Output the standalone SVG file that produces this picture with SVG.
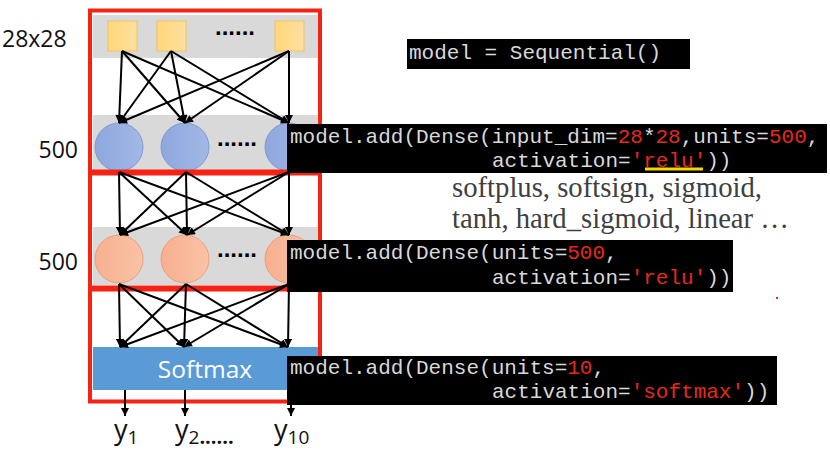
<svg xmlns="http://www.w3.org/2000/svg" width="830" height="452" viewBox="0 0 830 452">
<style>
.frame{fill:none;stroke:#f52314;stroke-width:4}
.band{fill:#d9d9d9}
.sq{fill:url(#gSq);stroke:#f2c463;stroke-width:1}
.c1{fill:url(#gBlue);stroke:#7f9ad6;stroke-width:1}
.c2{fill:url(#gOr);stroke:#e9a07c;stroke-width:1}
.edge{stroke:#000;stroke-width:2;fill:none;marker-end:url(#ah)}
.dots{font-family:"Liberation Sans",Arial,sans-serif;font-weight:bold;font-size:24px;fill:#000}
.lbl{font-family:"Open Sans","Noto Sans",sans-serif;font-size:23px;fill:#111}
.ylbl{font-family:"Open Sans","Noto Sans",sans-serif;font-size:27px;fill:#111}
.codebox{fill:#000}
.code{font-family:"Liberation Mono","Courier New",monospace;font-size:21px;fill:#d9d9d9}
.r{fill:#e8281c}
.serif{font-family:"Liberation Serif","Times New Roman",serif;font-size:28.7px;fill:#404040}
</style>
<defs>
<linearGradient id="gSq" x1="0" y1="0" x2="1" y2="0"><stop offset="0" stop-color="#ffd77a"/><stop offset="1" stop-color="#fde0a0"/></linearGradient>
<linearGradient id="gBlue" x1="0" y1="0" x2="1" y2="0"><stop offset="0" stop-color="#8ea7dd"/><stop offset="1" stop-color="#a3b8e6"/></linearGradient>
<linearGradient id="gOr" x1="0" y1="0" x2="1" y2="0"><stop offset="0" stop-color="#f7b08f"/><stop offset="1" stop-color="#fac2a6"/></linearGradient>
<marker id="ah" viewBox="0 0 10 10" refX="10" refY="5" markerWidth="9" markerHeight="8" markerUnits="userSpaceOnUse" orient="auto"><path d="M0,0 L10,5 L0,10 z" fill="#000"/></marker>
</defs>
<rect width="830" height="452" fill="#fff"/>

<g id="input-layer">
<rect class="band" x="93" y="15" width="225" height="43"/>
<rect class="sq" x="108" y="21" width="29" height="30"/>
<rect class="sq" x="157" y="21" width="29" height="30"/>
<rect class="sq" x="275" y="21" width="29" height="30"/>
<text class="dots" x="215" y="35">......</text>
</g>

<g id="hidden-layer-1">
<rect class="band" x="93" y="115" width="225" height="56"/>
<circle class="c1" cx="119" cy="147" r="24"/>
<circle class="c1" cx="185" cy="147" r="24"/>
<circle class="c1" cx="289" cy="147" r="24"/>
<text class="dots" x="217" y="146">......</text>
</g>

<g id="hidden-layer-2">
<rect class="band" x="93" y="227" width="225" height="58"/>
<circle class="c2" cx="119" cy="259" r="24"/>
<circle class="c2" cx="185" cy="259" r="24"/>
<circle class="c2" cx="289" cy="259" r="24"/>
<text class="dots" x="217" y="257">......</text>
</g>

<g id="softmax-layer">
<rect x="93" y="347" width="225" height="43" fill="#5b9bd5"/>
<text x="205" y="378" text-anchor="middle" font-family="Open Sans, Noto Sans, sans-serif" font-size="24.5" fill="#fff">Softmax</text>
</g>

<g id="frames">
<rect class="frame" x="90" y="10.5" width="230" height="161"/>
<rect class="frame" x="90" y="173.5" width="230" height="114"/>
<rect class="frame" x="90" y="289.5" width="230" height="112"/>
</g>

<g id="connectors">
<line class="edge" x1="122" y1="51" x2="119" y2="123"/>
<line class="edge" x1="122" y1="51" x2="185" y2="123"/>
<line class="edge" x1="122" y1="51" x2="289" y2="123"/>
<line class="edge" x1="171" y1="51" x2="119" y2="123"/>
<line class="edge" x1="171" y1="51" x2="185" y2="123"/>
<line class="edge" x1="171" y1="51" x2="289" y2="123"/>
<line class="edge" x1="289" y1="51" x2="119" y2="123"/>
<line class="edge" x1="289" y1="51" x2="185" y2="123"/>
<line class="edge" x1="289" y1="51" x2="289" y2="123"/>

<line class="edge" x1="119" y1="172" x2="120" y2="235"/>
<line class="edge" x1="119" y1="172" x2="187" y2="235"/>
<line class="edge" x1="119" y1="172" x2="289" y2="235"/>
<line class="edge" x1="186" y1="172" x2="120" y2="235"/>
<line class="edge" x1="186" y1="172" x2="187" y2="235"/>
<line class="edge" x1="186" y1="172" x2="289" y2="235"/>
<line class="edge" x1="289" y1="172" x2="120" y2="235"/>
<line class="edge" x1="289" y1="172" x2="187" y2="235"/>
<line class="edge" x1="289" y1="172" x2="289" y2="235"/>

<line class="edge" x1="119" y1="284" x2="120" y2="347"/>
<line class="edge" x1="119" y1="284" x2="184" y2="347"/>
<line class="edge" x1="119" y1="284" x2="288" y2="347"/>
<line class="edge" x1="186" y1="284" x2="120" y2="347"/>
<line class="edge" x1="186" y1="284" x2="184" y2="347"/>
<line class="edge" x1="186" y1="284" x2="288" y2="347"/>
<line class="edge" x1="289" y1="284" x2="120" y2="347"/>
<line class="edge" x1="289" y1="284" x2="184" y2="347"/>
<line class="edge" x1="289" y1="284" x2="288" y2="347"/>

<line class="edge" x1="125" y1="390" x2="125" y2="416"/>
<line class="edge" x1="185" y1="390" x2="185" y2="416"/>
<line class="edge" x1="291" y1="390" x2="291" y2="416"/>
</g>

<g id="layer-labels">
<text class="lbl" x="2" y="47">28x28</text>
<text class="lbl" x="78" y="158" text-anchor="end">500</text>
<text class="lbl" x="78" y="270" text-anchor="end">500</text>
</g>

<g id="outputs">
<text class="ylbl" x="114" y="439">y<tspan font-size="19" dy="5">1</tspan></text>
<text class="ylbl" x="175" y="439">y<tspan font-size="19" dy="5">2</tspan><tspan font-weight="bold" font-size="20">......</tspan></text>
<text class="ylbl" x="274" y="439">y<tspan font-size="19" dy="5">10</tspan></text>
</g>

<g id="code-sequential">
<rect class="codebox" x="407" y="39" width="283" height="30"/>
<text class="code" x="409" y="59">model = Sequential()</text>
</g>

<g id="code-dense-1">
<rect class="codebox" x="287" y="124" width="540" height="49"/>
<text class="code" x="290" y="143">model.add(Dense(input_dim=<tspan class="r">28</tspan>*<tspan class="r">28</tspan>,units=<tspan class="r">500</tspan>,</text>
<text class="code" x="492" y="167">activation=<tspan class="r">'relu'</tspan>))</text>
<line x1="645" y1="169" x2="703" y2="169" stroke="#f5d800" stroke-width="3"/>
</g>

<g id="activations-note">
<text class="serif" x="452" y="197">softplus, softsign, sigmoid,</text>
<text class="serif" x="452" y="228">tanh, hard_sigmoid, linear …</text>
</g>

<g id="code-dense-2">
<rect class="codebox" x="287" y="240" width="446" height="52"/>
<text class="code" x="290" y="259">model.add(Dense(units=<tspan class="r">500</tspan>,</text>
<text class="code" x="492" y="284">activation=<tspan class="r">'relu'</tspan>))</text>
</g>

<g id="code-dense-3">
<rect class="codebox" x="287" y="356" width="490" height="49"/>
<text class="code" x="290" y="374">model.add(Dense(units=<tspan class="r">10</tspan>,</text>
<text class="code" x="492" y="398">activation=<tspan class="r">'softmax'</tspan>))</text>
</g>

<rect x="776" y="297" width="2" height="2" fill="#e8281c"/>
</svg>
